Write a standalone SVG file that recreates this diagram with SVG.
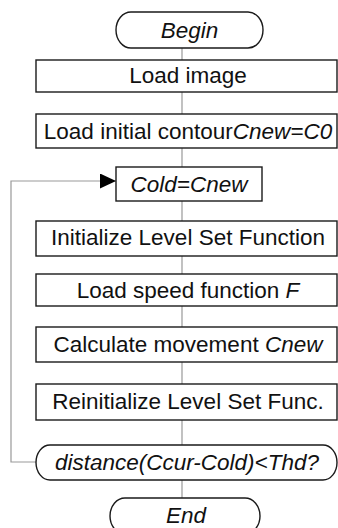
<svg xmlns="http://www.w3.org/2000/svg" width="338" height="528" viewBox="0 0 338 528">
<style>
.box{fill:#fff;stroke:#1a1a1a;stroke-width:1.4}
.term{fill:#fff;stroke:#1a1a1a;stroke-width:1.4}
.t{font-family:"Liberation Sans",Arial,sans-serif;font-size:22.5px;fill:#111;text-anchor:middle}
.i{font-style:italic}
.c{fill:none;stroke:#999;stroke-width:1.2}
</style>
<defs>
<marker id="arr" markerWidth="16" markerHeight="15" refX="16" refY="7.5" orient="auto" markerUnits="userSpaceOnUse">
<path d="M0,0 L16,7.5 L0,15 Z" fill="#000"/>
</marker>
</defs>
<rect width="338" height="528" fill="#fff"/>
<g id="connectors">
<path class="c" d="M182,48V60M182,92V114M182,148V167M182,201V221M182,256V274M182,306V327M182,362V384M182,420V445M182,480V498"/>
<path class="c" d="M36,462H11V181H116" marker-end="url(#arr)"/>
</g>
<g id="begin">
<rect class="term" x="116" y="12" width="147" height="36" rx="15" ry="18"/>
<text class="t i" x="189.5" y="38">Begin</text>
</g>
<g id="load-image">
<rect class="box" x="36" y="60" width="301" height="32"/>
<text class="t" x="188" y="83">Load image</text>
</g>
<g id="load-contour">
<rect class="box" x="36" y="114" width="301" height="34"/>
<text class="t" x="188" y="139">Load initial contour<tspan class="i">Cnew=C0</tspan></text>
</g>
<g id="cold">
<rect class="box" x="116" y="167" width="146" height="34"/>
<text class="t i" x="189" y="192">Cold=Cnew</text>
</g>
<g id="init">
<rect class="box" x="36" y="221" width="301" height="35"/>
<text class="t" x="188" y="245">Initialize Level Set Function</text>
</g>
<g id="speed">
<rect class="box" x="36" y="274" width="301" height="32"/>
<text class="t" x="188" y="298">Load speed function <tspan class="i">F</tspan></text>
</g>
<g id="calc">
<rect class="box" x="36" y="327" width="301" height="35"/>
<text class="t" x="188" y="352">Calculate movement <tspan class="i">Cnew</tspan></text>
</g>
<g id="reinit">
<rect class="box" x="36" y="384" width="301" height="36"/>
<text class="t" x="188" y="409">Reinitialize Level Set Func.</text>
</g>
<g id="decision">
<rect class="term" x="36" y="445" width="301" height="35" rx="14" ry="17.5"/>
<text class="t i" x="187" y="470">distance(Ccur-Cold)&lt;Thd?</text>
</g>
<g id="end">
<rect class="term" x="110" y="498" width="150" height="36" rx="15" ry="18"/>
<text class="t i" x="186" y="523">End</text>
</g>
</svg>
